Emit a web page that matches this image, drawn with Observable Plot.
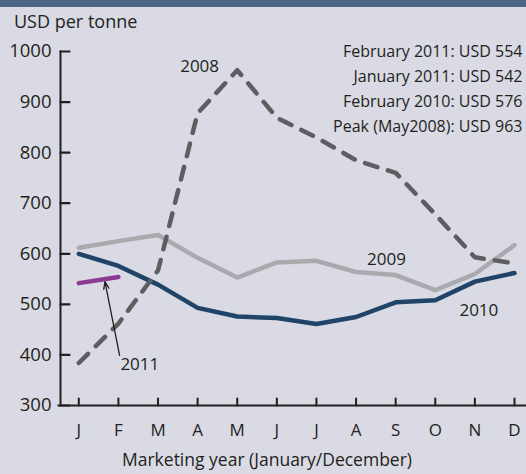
<!DOCTYPE html>
<html><head><meta charset="utf-8">
<script src="https://cdn.jsdelivr.net/npm/d3@7"></script>
<script src="https://cdn.jsdelivr.net/npm/@observablehq/plot@0.6"></script>
<style>
html,body{margin:0;padding:0;background:#d9dae3;}
#wrap{position:relative;width:526px;height:474px;overflow:hidden;font-family:"Open Sans",sans-serif;color:#231f20;background:#d9dae3}
#band{position:absolute;left:0;top:0;width:526px;height:7px;background:#4b6584}
#unit{position:absolute;left:14px;top:8px;font-size:18px;line-height:26px}
#xlabel{position:absolute;left:0;width:534px;text-align:center;top:447px;font-size:17.5px;line-height:24px}
#chart{position:absolute;left:0;top:0}
</style></head><body>
<div id="wrap"><div id="chart"></div><div id="band"></div><div id="unit">USD per tonne</div><div id="xlabel">Marketing year (January/December)</div></div>
<script>
const months = ["J","F","M","A","M","J","J","A","S","O","N","D"];
const yTicks = [300,400,500,600,700,800,900,1000];
const s2008 = [384,462,567,878,963,869,830,785,760,678,593,581];
const s2009 = [612,625,637,592,553,583,586,564,558,528,560,617];
const s2010 = [600,576,539,493,476,473,461,475,504,508,545,562];
const s2011 = [542,554];
const notes = ["February 2011: USD 554","January 2011: USD 542","February 2010: USD 576","Peak (May2008): USD 963"];
// series labels: [text, month index, value]
const seriesLabels = [["2008",3.05,971],["2009",7.77,589],["2010",10.1,487]];
const label2011 = {text:"2011", x:1.05, y:381};
const arrow2011 = {x1:1.03, y1:399, x2:0.66, y2:545};

const rows = (arr, name) => arr.map((v,i)=>({i, v, name}));
const ink = "#231f20";
const tickShape = {draw(context, l) { context.moveTo(0, 0); context.lineTo(0, -l); }};

const chart = Plot.plot({
  width: 526, height: 474,
  marginLeft: 60, marginRight: 0, marginTop: 51, marginBottom: 69,
  style: {fontFamily:"Open Sans, sans-serif", fontSize:"17px", color:ink, background:"transparent", overflow:"visible"},
  x: {type:"linear", domain:[-0.462, 11.303], axis:null},
  y: {domain:[300,1000], axis:null},
  marks: [
    Plot.frame({anchor:"left", stroke:ink, strokeWidth:2}),
    Plot.frame({anchor:"bottom", stroke:ink, strokeWidth:2, insetLeft:-2}),
    Plot.vector(yTicks, {y:d=>d, frameAnchor:"left", length:9, rotate:90, anchor:"start", shape:tickShape, stroke:ink, strokeWidth:2.2}),
    Plot.vector(d3.range(12), {x:d=>d, frameAnchor:"bottom", length:7, rotate:0, anchor:"start", shape:tickShape, stroke:ink, strokeWidth:2}),
    Plot.axisY({anchor:"left", ticks:yTicks, tickSize:0, tickPadding:9, tickFormat:d=>String(d), fill:ink, fontSize:18.5, label:null}),
    Plot.axisX({anchor:"bottom", ticks:d3.range(12), tickFormat:i=>months[i], tickSize:0, tickPadding:18, fill:ink, fontSize:17, label:null}),
    Plot.line(rows(s2010,"2010"), {x:"i", y:"v", stroke:"#1f4468", strokeWidth:4.5, strokeLinejoin:"round", strokeLinecap:"round"}),
    Plot.line(rows(s2009,"2009"), {x:"i", y:"v", stroke:"#a9aaad", strokeWidth:4.5, strokeLinejoin:"round", strokeLinecap:"round"}),
    Plot.line(rows(s2008,"2008"), {x:"i", y:"v", stroke:"#5d5e60", strokeWidth:4.5, strokeDasharray:"13,11", strokeLinejoin:"round", strokeLinecap:"round"}),
    Plot.line(rows(s2011,"2011"), {x:"i", y:"v", stroke:"#8b3a92", strokeWidth:4.5, strokeLinecap:"round"}),
    Plot.arrow([arrow2011], {x1:"x1", y1:"y1", x2:"x2", y2:"y2", stroke:ink, strokeWidth:1.3, headLength:9, headAngle:40}),
    Plot.text(seriesLabels, {x:d=>d[1], y:d=>d[2], text:d=>d[0], fontSize:17, fill:ink}),
    Plot.text([label2011], {x:"x", y:"y", text:"text", textAnchor:"start", fontSize:17, fill:ink}),
    ...notes.map((t,k)=>Plot.text([t], {frameAnchor:"top-right", text:d=>d, dx:-4, dy:k*25, lineAnchor:"middle", fontSize:16, fill:ink}))
  ]
});
document.getElementById("chart").appendChild(chart);
</script>
</body></html>
